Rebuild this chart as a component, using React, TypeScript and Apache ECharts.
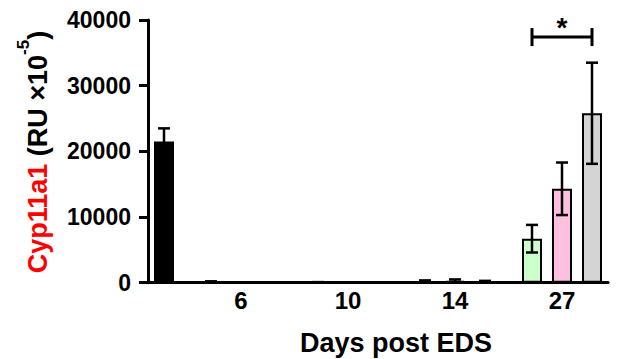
import React, { useEffect, useRef } from "react";
import * as echarts from "echarts";

// Days post EDS (first slot is the untreated control, unlabeled)
const categories = ["", "6", "10", "14", "27"];
// three treatment groups per day (control value sits in third slot of first category)
const greenMean = [null, 150, 60, 200, 6700];
const greenErr = [null, 60, 30, 150, 2100];
const pinkMean = [null, 20, 20, 300, 14300];
const pinkErr = [null, 10, 10, 200, 4000];
const grayMean = [21500, 20, 30, 180, 25800];
const grayErr = [2000, 10, 10, 100, 7700];
const yTicks = [0, 10000, 20000, 30000, 40000];
// significance bracket: category, from slot, to slot, level
const bracket = [[4, 0, 2, 37400]];
const bracketLabel = "*";

const FONT = "'Liberation Sans', Arial, Helvetica, sans-serif";

export default function App() {
  const ref = useRef<HTMLDivElement>(null);
  useEffect(() => {
    if (!ref.current) return;
    const chart = echarts.init(ref.current, null, { renderer: "svg" });
    const slotPx = 30;
    const capHalf = 6;

    const errData: number[][] = [];
    const means = [greenMean, pinkMean, grayMean];
    const errs = [greenErr, pinkErr, grayErr];
    means.forEach((arr, s) => {
      arr.forEach((m, i) => {
        if (m != null && errs[s][i] != null) errData.push([i, s, m as number, errs[s][i] as number]);
      });
    });

    const barStyle = (color: string) => ({
      color,
      borderColor: "#000",
      borderWidth: 2,
    });

    chart.setOption({
      animation: false,
      grid: [
        { left: 80.5, right: 3.5, top: 20, bottom: 76.3 },
        { left: 148, right: 11, top: 20, bottom: 76.3 },
      ],
      xAxis: [
        {
          type: "category",
          gridIndex: 0,
          data: categories,
          axisLine: { show: false },
          axisTick: { show: false },
          axisLabel: {
            color: "#000",
            fontSize: 24,
            fontWeight: "bold",
            fontFamily: FONT,
            margin: 6,
          },
        },
        {
          type: "value",
          gridIndex: 1,
          min: 0,
          max: 1,
          axisLine: { show: true, lineStyle: { color: "#000", width: 3 } },
          axisTick: { show: false },
          axisLabel: { show: false },
          splitLine: { show: false },
        },
      ],
      yAxis: [
        {
          type: "value",
          gridIndex: 0,
          min: 0,
          max: 40000,
          interval: 10000,
          show: false,
        },
        {
          type: "value",
          gridIndex: 1,
          min: yTicks[0],
          max: yTicks[yTicks.length - 1],
          interval: yTicks[1] - yTicks[0],
          axisLine: { show: true, lineStyle: { color: "#000", width: 3 } },
          axisTick: { show: true, length: 9, lineStyle: { color: "#000", width: 3 } },
          axisLabel: {
            color: "#000",
            fontSize: 23,
            fontWeight: "bold",
            fontFamily: FONT,
            margin: 17,
            formatter: (v: number) => String(v),
          },
          splitLine: { show: false },
        },
      ],
      series: [
        {
          name: "Group A",
          type: "bar",
          xAxisIndex: 0,
          yAxisIndex: 0,
          data: greenMean,
          barWidth: 20,
          barGap: "50%",
          itemStyle: barStyle("#ccffcc"),
        },
        {
          name: "Group B",
          type: "bar",
          xAxisIndex: 0,
          yAxisIndex: 0,
          data: pinkMean,
          barWidth: 20,
          barGap: "50%",
          itemStyle: barStyle("#ffbfdf"),
        },
        {
          name: "Group C",
          type: "bar",
          xAxisIndex: 0,
          yAxisIndex: 0,
          data: grayMean.map((v, i) =>
            i === 0 ? { value: v, itemStyle: { color: "#000" } } : v
          ),
          barWidth: 20,
          barGap: "50%",
          itemStyle: barStyle("#d4d4d4"),
        },
        {
          name: "error",
          type: "custom",
          xAxisIndex: 0,
          yAxisIndex: 0,
          data: errData,
          z: 5,
          renderItem: (params: any, api: any) => {
            const cat = api.value(0);
            const slot = api.value(1);
            const m = api.value(2);
            const e = api.value(3);
            const hi = api.coord([cat, m + e]);
            const lo = api.coord([cat, Math.max(0, m - e)]);
            const x = hi[0] + (slot - 1) * slotPx;
            const st = { stroke: "#000", lineWidth: 2.5 };
            return {
              type: "group",
              children: [
                { type: "line", shape: { x1: x, y1: hi[1], x2: x, y2: lo[1] }, style: st },
                { type: "line", shape: { x1: x - capHalf, y1: hi[1], x2: x + capHalf, y2: hi[1] }, style: st },
                { type: "line", shape: { x1: x - capHalf, y1: lo[1], x2: x + capHalf, y2: lo[1] }, style: st },
              ],
            };
          },
        },
        {
          name: "significance",
          type: "custom",
          xAxisIndex: 0,
          yAxisIndex: 0,
          data: bracket,
          z: 6,
          renderItem: (params: any, api: any) => {
            const cat = api.value(0);
            const s0 = api.value(1);
            const s1 = api.value(2);
            const lvl = api.value(3);
            const p = api.coord([cat, lvl]);
            const x0 = p[0] + (s0 - 1) * slotPx;
            const x1 = p[0] + (s1 - 1) * slotPx;
            const st = { stroke: "#000", lineWidth: 3 };
            return {
              type: "group",
              children: [
                { type: "line", shape: { x1: x0, y1: p[1], x2: x1, y2: p[1] }, style: st },
                { type: "line", shape: { x1: x0, y1: p[1] - 9, x2: x0, y2: p[1] + 9 }, style: st },
                { type: "line", shape: { x1: x1, y1: p[1] - 9, x2: x1, y2: p[1] + 9 }, style: st },
                {
                  type: "text",
                  x: (x0 + x1) / 2,
                  y: p[1] + 4,
                  style: {
                    text: bracketLabel,
                    fill: "#000",
                    font: `bold 28px ${FONT}`,
                    align: "center",
                    verticalAlign: "bottom",
                  },
                },
              ],
            };
          },
        },
      ],
      graphic: [
        {
          type: "text",
          x: 38,
          y: 152,
          rotation: Math.PI / 2,
          style: {
            text: "{r|Cyp11a1}{b| (RU ×10}{s|-5}{b|)}",
            align: "center",
            verticalAlign: "middle",
            rich: {
              r: { fill: "#ff0000", fontSize: 27, fontWeight: "bold", fontFamily: FONT, lineHeight: 46 },
              b: { fill: "#000", fontSize: 27, fontWeight: "bold", fontFamily: FONT, lineHeight: 46 },
              s: { fill: "#000", fontSize: 17, fontWeight: "bold", fontFamily: FONT, verticalAlign: "top", lineHeight: 17 },
            },
          },
        },
        {
          type: "text",
          x: 396,
          y: 343,
          style: {
            text: "Days post EDS",
            fill: "#000",
            font: `bold 27px ${FONT}`,
            align: "center",
            verticalAlign: "middle",
          },
        },
      ],
    });
    return () => chart.dispose();
  }, []);
  return (
    <div
      ref={ref}
      style={{ position: "fixed", left: 0, top: 0, width: 619, height: 359, background: "#fff" }}
    />
  );
}
